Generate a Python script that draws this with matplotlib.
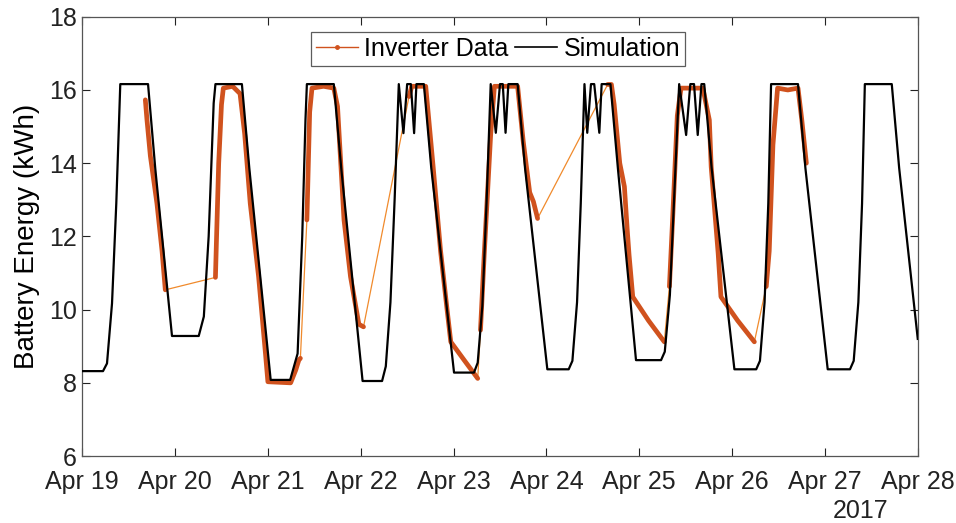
import datetime as dt
import matplotlib
matplotlib.use("Agg")
import matplotlib.pyplot as plt
from matplotlib.lines import Line2D

plt.rcParams['font.family'] = ['Liberation Sans', 'DejaVu Sans']

# ---- data (time in days after 2017-04-19 00:00, energy in kWh) ----
sim_day = [0.0, 0.224, 0.267, 0.321, 0.367, 0.41, 0.709, 0.787, 0.967,
           1.255, 1.31, 1.362, 1.416, 1.435, 1.72, 1.80, 2.03,
           2.24, 2.32, 2.37, 2.405, 2.42, 2.71, 2.79, 3.02,
           3.23, 3.27, 3.32, 3.365, 3.41, 3.46, 3.50, 3.54, 3.575, 3.60, 3.68, 3.76, 4.005,
           4.22, 4.26, 4.31, 4.355, 4.40, 4.455, 4.50, 4.53, 4.56, 4.59, 4.69, 4.77, 5.01,
           5.24, 5.28, 5.33, 5.37, 5.41, 5.44, 5.48, 5.515, 5.57, 5.595, 5.69, 5.77, 5.965,
           6.235, 6.275, 6.33, 6.375, 6.43, 6.505, 6.55, 6.59, 6.63, 6.67, 6.70, 6.78, 7.025,
           7.26, 7.30, 7.35, 7.39, 7.42, 7.71, 7.79, 8.03,
           8.27, 8.31, 8.36, 8.40, 8.43, 8.72, 8.80, 9.0]
sim_kwh = [8.32, 8.32, 8.53, 10.17, 12.9, 16.16, 16.16, 13.85, 9.28,
           9.28, 9.81, 12.0, 15.64, 16.16, 16.16, 13.86, 8.08,
           8.08, 8.8, 12.0, 15.2, 16.16, 16.16, 13.86, 8.05,
           8.05, 8.45, 10.2, 13.0, 16.16, 14.82, 16.16, 16.16, 14.82, 16.16, 16.16, 13.86, 8.28,
           8.28, 8.55, 10.1, 12.9, 16.16, 14.83, 16.16, 16.16, 14.83, 16.16, 16.16, 13.86, 8.37,
           8.37, 8.6, 10.2, 12.9, 16.16, 14.83, 16.16, 16.16, 14.83, 16.16, 16.16, 13.86, 8.62,
           8.62, 8.85, 10.4, 13.0, 16.16, 14.77, 16.16, 16.16, 14.77, 16.16, 16.16, 13.86, 8.37,
           8.37, 8.6, 10.2, 12.9, 16.16, 16.16, 13.86, 8.37,
           8.37, 8.6, 10.2, 12.9, 16.16, 16.16, 13.86, 9.2]

inv_day = [0.68, 0.697, 0.734, 0.805, 0.86, 0.895,
           1.435, 1.445, 1.47, 1.50, 1.52, 1.62, 1.66, 1.70, 1.75, 1.81, 1.90, 1.974, 2.0, 2.245, 2.30, 2.333, 2.35,
           2.42, 2.45, 2.475, 2.60, 2.71, 2.75, 2.82, 2.89, 2.98, 3.03,
           3.52, 3.55, 3.70, 3.78, 3.86, 3.93, 3.97, 4.12, 4.26,
           4.29, 4.33, 4.40, 4.44, 4.69, 4.75, 4.82, 4.86, 4.905,
           5.66, 5.70, 5.73, 5.79, 5.84, 5.87, 5.89, 5.93, 6.10, 6.27,
           6.325, 6.36, 6.41, 6.45, 6.685, 6.755, 6.775, 6.85, 6.88, 7.06, 7.24,
           7.368, 7.40, 7.44, 7.49, 7.60, 7.71, 7.75, 7.80]
inv_kwh = [15.73, 15.2, 14.2, 12.9, 11.6, 10.54,
           10.88, 11.8, 14.0, 15.6, 16.05, 16.1, 16.0, 15.9, 14.8, 12.9, 10.9, 8.8, 8.03, 8.0, 8.35, 8.62, 8.67,
           12.45, 15.4, 16.05, 16.1, 16.05, 15.55, 12.45, 10.9, 9.6, 9.53,
           15.82, 16.1, 16.1, 13.9, 11.6, 10.0, 9.12, 8.6, 8.12,
           9.44, 11.5, 14.8, 16.1, 16.1, 14.6, 13.2, 12.95, 12.49,
           16.15, 16.15, 15.6, 14.0, 13.36, 12.2, 11.5, 10.35, 9.7, 9.12,
           10.63, 12.5, 15.3, 16.05, 16.05, 15.18, 13.9, 11.54, 10.35, 9.7, 9.12,
           10.63, 11.6, 14.5, 16.05, 16.0, 16.05, 15.2, 14.0]
inv_segment = [0] * 6 + [1] * 17 + [2] * 10 + [3] * 9 + [4] * 9 + [5] * 10 + [6] * 11 + [7] * 8

day_labels = ['Apr 19', 'Apr 20', 'Apr 21', 'Apr 22', 'Apr 23',
              'Apr 24', 'Apr 25', 'Apr 26', 'Apr 27', 'Apr 28']
y_ticks = [6, 8, 10, 12, 14, 16, 18]

base = dt.datetime(2017, 4, 19)
to_dt = lambda d: base + dt.timedelta(days=d)
sim_t = [to_dt(d) for d in sim_day]
inv_t = [to_dt(d) for d in inv_day]

fig = plt.figure(figsize=(9.56, 5.23), dpi=100)
ax = fig.add_axes([0.086, 0.128, 0.874, 0.840])

orange = '#D0521E'
thin_orange = '#F08A2C'

# thin connecting line through all inverter samples
ax.plot(inv_t, inv_kwh, color=thin_orange, lw=0.9, zorder=2)
# dense recorded stretches appear as a thick line of dots
for s in sorted(set(inv_segment)):
    idx = [i for i, g in enumerate(inv_segment) if g == s]
    ax.plot([inv_t[i] for i in idx], [inv_kwh[i] for i in idx],
            color=orange, lw=3.4, solid_capstyle='round', zorder=3)

ax.plot(sim_t, sim_kwh, color='black', lw=1.6, zorder=4)

ax.set_xlim(to_dt(0), to_dt(9))
ax.set_ylim(6, 18)
ax.set_yticks(y_ticks)
ax.set_xticks([to_dt(i) for i in range(len(day_labels))])
ax.set_xticklabels(day_labels)
ax.tick_params(axis='both', direction='in', length=6, width=0.8,
               top=True, right=True, labelsize=18, colors='#222222', pad=4)
ax.tick_params(axis='x', pad=10)
for sp in ax.spines.values():
    sp.set_color('#555555')
    sp.set_linewidth(0.9)
ax.set_ylabel('Battery Energy (kWh)', fontsize=20, labelpad=6)

handles = [Line2D([], [], color=orange, lw=1.0, marker='.', markersize=5),
           Line2D([], [], color='black', lw=1.2)]
leg = ax.legend(handles, ['Inverter Data', 'Simulation'], loc='upper center',
                bbox_to_anchor=(0.4976, 0.966), ncol=2, fontsize=18, frameon=True,
                fancybox=False, edgecolor='#333333', handlelength=1.7,
                handletextpad=0.25, columnspacing=0.25, borderpad=0.2,
                borderaxespad=0.0)
leg.get_frame().set_linewidth(0.9)

fig.text(861 / 956, 1 - 511 / 523, '2017', ha='center', va='center',
         fontsize=18, color='#222222')

fig.savefig('out.png', dpi=100)
